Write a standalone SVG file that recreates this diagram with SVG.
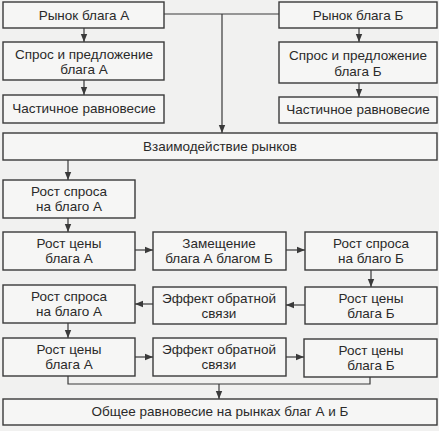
<svg xmlns="http://www.w3.org/2000/svg" width="439" height="431" viewBox="0 0 439 431">
<style>
.bg{fill:#f1f1f0}
.box{fill:#f6f6f5;stroke:#3a3a3a;stroke-width:1.4}
.t{font-family:"Liberation Sans",Arial,sans-serif;font-size:13.5px;fill:#2a2a2a;text-anchor:middle}
.c{fill:none;stroke:#3a3a3a;stroke-width:1.2}
</style>
<defs>
<marker id="ah" viewBox="0 0 10 10" refX="10" refY="5" markerWidth="8" markerHeight="8" markerUnits="userSpaceOnUse" orient="auto">
<path d="M0,1 L10,5 L0,9 Z" fill="#3a3a3a"/>
</marker>
</defs>
<rect class="bg" x="0" y="0" width="439" height="431"/>
<g id="connectors">
<path class="c" d="M164,14 H279"/>
<path class="c" d="M222,14 V133" marker-end="url(#ah)"/>
<path class="c" d="M84,28 V42" marker-end="url(#ah)"/>
<path class="c" d="M84,80 V95" marker-end="url(#ah)"/>
<path class="c" d="M359,28 V42" marker-end="url(#ah)"/>
<path class="c" d="M359,83 V97" marker-end="url(#ah)"/>
<path class="c" d="M68,160 V180" marker-end="url(#ah)"/>
<path class="c" d="M68,218 V232" marker-end="url(#ah)"/>
<path class="c" d="M135,250 H153" marker-end="url(#ah)"/>
<path class="c" d="M286,250 H305" marker-end="url(#ah)"/>
<path class="c" d="M371,270 V287" marker-end="url(#ah)"/>
<path class="c" d="M305,305 H286" marker-end="url(#ah)"/>
<path class="c" d="M153,304 H135" marker-end="url(#ah)"/>
<path class="c" d="M68,323 V338" marker-end="url(#ah)"/>
<path class="c" d="M135,357 H153" marker-end="url(#ah)"/>
<path class="c" d="M286,357 H304" marker-end="url(#ah)"/>
<path class="c" d="M68,376 V384 H370 V377"/>
<path class="c" d="M219,384 V399" marker-end="url(#ah)"/>
</g>
<g id="marketA"><rect class="box" x="3" y="2" width="161" height="26"/><text class="t" x="84" y="20">Рынок блага А</text></g>
<g id="sdA"><rect class="box" x="3" y="42" width="161" height="38"/><text class="t" x="84" y="59">Спрос и предложение</text><text class="t" x="84" y="74">блага А</text></g>
<g id="eqA"><rect class="box" x="3" y="95" width="161" height="28"/><text class="t" x="84" y="113">Частичное равновесие</text></g>
<g id="marketB"><rect class="box" x="279" y="2" width="158" height="26"/><text class="t" x="358" y="20">Рынок блага Б</text></g>
<g id="sdB"><rect class="box" x="279" y="42" width="158" height="41"/><text class="t" x="358" y="60">Спрос и предложение</text><text class="t" x="358" y="76">блага Б</text></g>
<g id="eqB"><rect class="box" x="279" y="97" width="158" height="26"/><text class="t" x="358" y="114">Частичное равновесие</text></g>
<g id="interaction"><rect class="box" x="3" y="133" width="434" height="27"/><text class="t" x="220" y="151">Взаимодействие рынков</text></g>
<g id="demandA1"><rect class="box" x="3" y="180" width="132" height="38"/><text class="t" x="69" y="196">Рост спроса</text><text class="t" x="69" y="211">на благо А</text></g>
<g id="priceA1"><rect class="box" x="3" y="232" width="132" height="38"/><text class="t" x="69" y="248">Рост цены</text><text class="t" x="69" y="263">блага А</text></g>
<g id="substitution"><rect class="box" x="153" y="232" width="133" height="38"/><text class="t" x="219" y="248">Замещение</text><text class="t" x="219" y="263">блага А благом Б</text></g>
<g id="demandB"><rect class="box" x="305" y="232" width="132" height="38"/><text class="t" x="371" y="248">Рост спроса</text><text class="t" x="371" y="263">на благо Б</text></g>
<g id="priceB1"><rect class="box" x="305" y="287" width="132" height="37"/><text class="t" x="371" y="303">Рост цены</text><text class="t" x="371" y="318">блага Б</text></g>
<g id="feedback1"><rect class="box" x="153" y="287" width="133" height="37"/><text class="t" x="219" y="303">Эффект обратной</text><text class="t" x="219" y="318">связи</text></g>
<g id="demandA2"><rect class="box" x="3" y="285" width="132" height="38"/><text class="t" x="69" y="301">Рост спроса</text><text class="t" x="69" y="316">на благо А</text></g>
<g id="priceA2"><rect class="box" x="3" y="338" width="132" height="38"/><text class="t" x="69" y="354">Рост цены</text><text class="t" x="69" y="369">блага А</text></g>
<g id="feedback2"><rect class="box" x="153" y="338" width="133" height="38"/><text class="t" x="219" y="354">Эффект обратной</text><text class="t" x="219" y="369">связи</text></g>
<g id="priceB2"><rect class="box" x="304" y="339" width="133" height="38"/><text class="t" x="371" y="355">Рост цены</text><text class="t" x="371" y="370">блага Б</text></g>
<g id="general"><rect class="box" x="3" y="399" width="434" height="26"/><text class="t" x="220" y="416">Общее равновесие на рынках благ А и Б</text></g>
</svg>
